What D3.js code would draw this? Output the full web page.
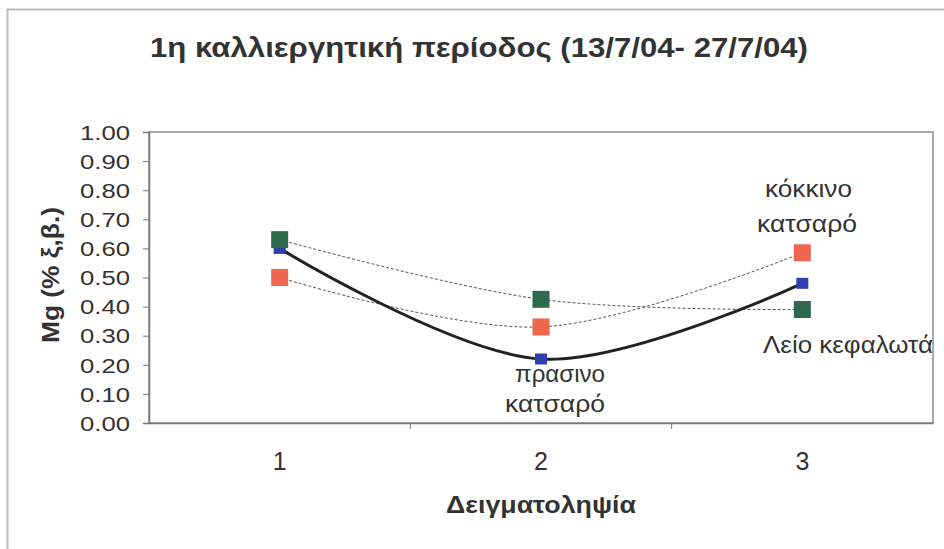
<!DOCTYPE html>
<html>
<head>
<meta charset="utf-8">
<script src="https://cdn.jsdelivr.net/npm/d3@7"></script>
<style>
  body { margin: 0; background: #fff; }
  text { font-family: Arial, "Liberation Sans", sans-serif; fill: #333; }
</style>
</head>
<body>
<div class="chart"></div>
<script>
// sampling points and values (Mg % dry weight)
var samples = [1, 2, 3];
var prasino = [0.60, 0.22, 0.48];   // πράσινο κατσαρό
var kokkino = [0.50, 0.33, 0.585];  // κόκκινο κατσαρό
var leio = [0.63, 0.425, 0.39];     // Λείο κεφαλωτά
var yTicks = [0, 0.1, 0.2, 0.3, 0.4, 0.5, 0.6, 0.7, 0.8, 0.9, 1.0];

var margin = { top: 132, right: 11, bottom: 126, left: 149 },
  width = 944 - margin.left - margin.right,
  height = 549 - margin.top - margin.bottom;

const root = d3.select(".chart")
  .append("svg")
  .attr("width", 944)
  .attr("height", 549);

// outer frame (only top and left edges visible)
root.append("path")
  .attr("d", "M7.5,549 V9.5 H944")
  .attr("fill", "none")
  .attr("stroke", "#b8bcc4")
  .attr("stroke-width", 2);

root.append("text")
  .attr("x", 150)
  .attr("y", 57)
  .attr("textLength", 658)
  .attr("lengthAdjust", "spacingAndGlyphs")
  .style("font-size", "27px")
  .style("font-weight", "bold")
  .text("1η καλλιεργητική περίοδος (13/7/04- 27/7/04)");

const svg = root.append("g")
  .attr("transform", "translate(" + margin.left + "," + margin.top + ")");

var x = d3.scaleBand().domain(samples).range([0, width]);
var y = d3.scaleLinear().domain([0, 1]).range([height, 0]);
var cx = (d) => x(d) + x.bandwidth() / 2;

// plot area border
svg.append("rect")
  .attr("width", width)
  .attr("height", height)
  .attr("fill", "none")
  .attr("stroke", "#8a8d94")
  .attr("stroke-width", 1.5);

// y axis
var yAxis = svg.append("g")
  .call(d3.axisLeft(y).tickValues(yTicks).tickSize(6).tickPadding(13).tickFormat(d3.format(".2f")));
yAxis.select(".domain").attr("stroke", "#777").attr("stroke-width", 1.5);
yAxis.selectAll(".tick line").attr("stroke", "#777");
yAxis.selectAll("text")
  .style("font-size", "20px")
  .attr("fill", "#3a3a3a")
  .attr("dy", "0.36em")
  .attr("textLength", 50)
  .attr("lengthAdjust", "spacingAndGlyphs");

// x axis: ticks at category boundaries
var xAxis = svg.append("g")
  .attr("transform", "translate(0," + height + ")")
  .call(d3.axisBottom(x).tickSize(0).tickPadding(0));
xAxis.select(".domain").attr("stroke", "#777").attr("stroke-width", 1.5);
xAxis.selectAll("text")
  .style("font-size", "25px")
  .attr("fill", "#3a3a3a")
  .attr("dy", null)
  .attr("y", 47);
xAxis.selectAll(".bound")
  .data(samples.slice(1))
  .enter()
  .append("line")
  .attr("x1", (d) => x(d))
  .attr("x2", (d) => x(d))
  .attr("y1", 0)
  .attr("y2", 6)
  .attr("stroke", "#777");

// axis titles
root.append("text")
  .attr("transform", "translate(59,275) rotate(-90)")
  .attr("x", -68)
  .attr("textLength", 136)
  .attr("lengthAdjust", "spacingAndGlyphs")
  .style("font-size", "23px")
  .style("font-weight", "bold")
  .text("Mg (% ξ,β.)");

root.append("text")
  .attr("x", 446)
  .attr("y", 513)
  .attr("textLength", 190)
  .attr("lengthAdjust", "spacingAndGlyphs")
  .style("font-size", "23px")
  .style("font-weight", "bold")
  .text("Δειγματοληψία");

var line = d3.line()
  .x((d, i) => cx(samples[i]))
  .y((d) => y(d))
  .curve(d3.curveCatmullRom.alpha(0.5));

// thin dotted lines for red and green series
svg.append("path")
  .attr("d", line(leio))
  .attr("fill", "none")
  .attr("stroke", "#555")
  .attr("stroke-width", 1)
  .attr("stroke-dasharray", "3,2");
svg.append("path")
  .attr("d", line(kokkino))
  .attr("fill", "none")
  .attr("stroke", "#555")
  .attr("stroke-width", 1)
  .attr("stroke-dasharray", "3,2");

// thick line for the blue series
svg.append("path")
  .attr("d", line(prasino))
  .attr("fill", "none")
  .attr("stroke", "#222")
  .attr("stroke-width", 3);

// markers
function markers(vals, color, w, h) {
  svg.append("g")
    .selectAll("rect")
    .data(vals)
    .enter()
    .append("rect")
    .attr("x", (d, i) => cx(samples[i]) - w / 2)
    .attr("y", (d) => y(d) - h / 2)
    .attr("width", w)
    .attr("height", h)
    .attr("fill", color);
}
markers(prasino, "#2f3fae", 12, 11);
markers(kokkino, "#f0664f", 17, 17);
markers(leio, "#2f6a4c", 17, 17);

// series labels
var labels = [
  { t: "κόκκινο", x: 765, y: 197, w: 87 },
  { t: "κατσαρό", x: 757, y: 232, w: 100 },
  { t: "πρασινο", x: 515, y: 382, w: 90 },
  { t: "κατσαρό", x: 505, y: 412, w: 100 },
  { t: "Λείο κεφαλωτά", x: 763, y: 353, w: 170 }
];
root.selectAll(".lbl")
  .data(labels)
  .enter()
  .append("text")
  .attr("x", (d) => d.x)
  .attr("y", (d) => d.y)
  .attr("textLength", (d) => d.w)
  .attr("lengthAdjust", "spacingAndGlyphs")
  .style("font-size", "24px")
  .attr("fill", "#3a3a3a")
  .text((d) => d.t);
</script>
</body>
</html>
